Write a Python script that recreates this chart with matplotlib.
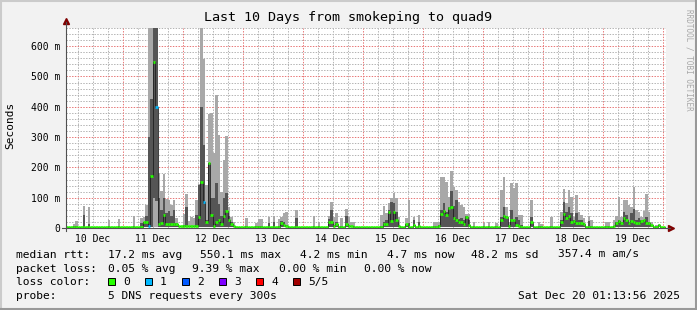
import matplotlib
matplotlib.use('Agg')
import matplotlib.pyplot as plt
from matplotlib.lines import Line2D
from matplotlib.patches import Rectangle
import numpy as np

plt.rc('font', family='DejaVu Sans Mono')

# smoke data, hourly bins, hour index counted from 10 Dec 00:00, values in ms
# (bins not listed sit on the baseline)
hours = [4, 5, 8, 10, 18, 22,
         28, 31, 32, 33, 34, 35, 36, 37, 38, 39, 40, 41, 42, 43, 44, 45, 46, 47,
         48, 49, 50, 51, 52, 53, 54, 55, 56, 57, 58, 59, 60, 61, 62, 63, 64, 65, 66, 67, 68,
         73, 77, 78, 79, 82, 84, 86, 87, 88, 89, 93,
         100, 102, 106, 107, 108, 109, 111, 113, 114, 115, 116,
         127, 128, 129, 130, 131, 132, 133, 134, 137, 138, 140, 142,
         148, 149, 150, 151, 152, 153, 154, 155, 156, 157, 158, 159, 160, 161, 162, 164,
         168, 170, 173, 175, 176, 177, 178, 179, 180, 181, 182, 183, 187, 190,
         191, 195, 199, 200, 201, 202, 203, 204, 205, 206, 207, 208, 210, 211,
         217, 218, 220, 221, 222, 223, 224, 225, 226, 227, 228, 229, 230, 231, 232, 233, 234, 235, 237, 238]
median = [4.5, 4.5, 4.5, 4.5, 4.5, 4.5,
          4.5, 4.5, 20, 21, 5, 172, 549, 400, 13, 15, 43, 14, 14, 14, 12, 12, 7, 7,
          6, 6, 5, 5, 7, 7, 37, 153, 87, 21, 213, 43, 5, 20, 26, 12, 40, 57, 26, 13, 6,
          4.5, 4.5, 4.5, 4.5, 4.5, 4.5, 4.5, 18, 10, 6, 4.5,
          4.5, 4.5, 21, 21, 8, 12, 4.5, 13, 8, 5, 4.5,
          4.5, 12, 14, 54, 23, 54, 26, 6, 12, 4.5, 10, 5,
          4.5, 4.5, 8, 45, 57, 43, 65, 70, 32, 26, 21, 21, 13, 35, 10, 4.5,
          4.5, 4.5, 4.5, 26, 40, 37, 8, 26, 26, 10, 8, 4.5, 19, 4.5,
          4.5, 4.5, 21, 46, 34, 40, 21, 24, 15, 18, 15, 14, 4.5, 4.5,
          4.5, 4.5, 8, 15, 23, 17, 32, 26, 17, 23, 21, 15, 18, 23, 26, 15, 15, 10, 4.5, 10]
upper = [5, 8, 43, 13, 8, 6,
         6, 15, 20, 40, 300, 425, 700, 700, 100, 60, 98, 50, 55, 40, 59, 15, 7, 7,
         10, 70, 6, 8, 8, 43, 142, 400, 274, 25, 216, 100, 99, 148, 80, 40, 100, 115, 40, 20, 6,
         5, 5, 5, 5, 15, 21, 8, 24, 21, 10, 32,
         5, 5, 30, 59, 10, 21, 8, 40, 10, 6, 5,
         8, 21, 26, 59, 87, 81, 54, 10, 13, 15, 26, 21,
         5, 5, 10, 60, 81, 54, 70, 123, 73, 92, 30, 32, 25, 40, 26, 5,
         5, 8, 6, 37, 70, 40, 10, 59, 26, 37, 26, 10, 37, 5,
         5, 5, 26, 87, 54, 70, 48, 26, 48, 26, 26, 18, 24, 5,
         5, 5, 8, 21, 26, 21, 54, 43, 21, 50, 62, 26, 32, 26, 26, 37, 21, 10, 5, 10]
top = [13, 23, 73, 70, 27, 30,
       40, 33, 37, 76, 700, 700, 700, 700, 181, 122, 178, 96, 92, 76, 92, 34, 8, 8,
       46, 112, 22, 37, 32, 92, 145, 700, 557, 142, 376, 380, 247, 438, 306, 120, 224, 303, 70, 37, 20,
       32, 15, 30, 29, 37, 40, 30, 37, 48, 54, 59,
       40, 21, 40, 87, 37, 48, 32, 62, 37, 21, 21,
       43, 73, 48, 84, 98, 114, 98, 37, 32, 92, 37, 43,
       21, 21, 21, 169, 169, 153, 101, 189, 136, 125, 87, 76, 70, 46, 46, 21,
       18, 21, 15, 125, 169, 70, 21, 147, 131, 147, 43, 43, 92, 21,
       13, 37, 54, 129, 81, 125, 103, 37, 109, 54, 43, 32, 40, 26,
       21, 21, 26, 40, 103, 35, 92, 92, 76, 70, 136, 59, 54, 37, 57, 112, 54, 21, 10, 12]
lower_hours = [36, 37]
lower_vals = [98, 90]
loss_hours = [34, 37, 56]
loss_counts = [1, 1, 1]

base_min = 3.9
base_med = 4.5

day_labels = ['10 Dec', '11 Dec', '12 Dec', '13 Dec', '14 Dec',
              '15 Dec', '16 Dec', '17 Dec', '18 Dec', '19 Dec']
loss_colors = ['#26ff00', '#00b8ff', '#0059ff', '#7e00ff', '#ff0000', '#a10000']
loss_names = ['0', '1', '2', '3', '4', '5/5']

assert len(hours) == len(median) == len(upper) == len(top)

t0 = 1 + 13 / 60 + 56 / 3600   # end time 01:13:56, 10 days back
t1 = t0 + 240

bins = np.arange(1, 241)
p1 = np.full(240, base_min)
p2 = np.full(240, base_min)
p3 = np.full(240, base_med)
p4 = np.full(240, base_med)
p5 = np.full(240, base_med)
idx = np.array(hours) - 1
p3[idx] = median
p4[idx] = upper
p5[idx] = top
p2[np.array(lower_hours) - 1] = lower_vals
loss = np.zeros(240, dtype=int)
loss[np.array(loss_hours) - 1] = loss_counts

W, H = 697, 310
fig = plt.figure(figsize=(W / 100, H / 100), dpi=100)
fig.patch.set_facecolor('#f2f2f2')
ax = fig.add_axes([66 / W, 1 - 228 / H, 600 / W, 200 / H])
ax.set_facecolor('white')
ax.set_xlim(t0, t1)
ax.set_ylim(0, 660)
for s in ax.spines.values():
    s.set_visible(False)

# grid (dotted, 1px on / 1px off)
dot = (0, (1.4, 1.4))
mgrid, grid = '#e87878', '#b4b4b4'
gx = np.arange(6, 241, 6)
gx_major = gx[gx % 24 == 0]
gx_minor = gx[gx % 24 != 0]
gy = np.arange(20, 661, 20)
gy_major = gy[gy % 100 == 0]
gy_minor = gy[gy % 100 != 0]
ax.vlines(gx_minor, 0, 660, colors=grid, lw=0.72, linestyles=dot, zorder=0, snap=True)
ax.hlines(gy_minor, t0, t1, colors=grid, lw=0.72, linestyles=dot, zorder=0, snap=True)
ax.vlines(gx_major, 0, 660, colors=mgrid, lw=0.72, linestyles=dot, zorder=1, snap=True)
ax.hlines(gy_major, t0, t1, colors=mgrid, lw=0.72, linestyles=dot, zorder=1, snap=True)

# smoke
ax.bar(bins, p5 - p1, bottom=p1, width=1, align='edge', color='#a8a8a8', lw=0, zorder=2)
ax.bar(bins, p4 - p2, bottom=p2, width=1, align='edge', color='#555555', lw=0, zorder=3)

# median line + loss coloured ticks
ax.step(np.r_[bins, 241], np.r_[p3, p3[-1]], where='post', color='#202020', lw=0.6, zorder=4)
ax.hlines(p3, bins, bins + 1, colors=[loss_colors[l] for l in loss], lw=1.9, zorder=5)

# ticks
ax.set_xticks([12 + 24 * k for k in range(10)], day_labels)
ax.set_yticks(range(0, 700, 100), ['0'] + ['%d m' % v for v in range(100, 700, 100)])
ax.tick_params(length=0, labelsize=7, pad=4.3)

# axes with arrows
ax.add_line(Line2D([0, 0], [-0.015, 1.03], transform=ax.transAxes, color='#505050',
                   lw=0.8, clip_on=False, zorder=6))
ax.add_line(Line2D([-0.006, 1.006], [0, 0], transform=ax.transAxes, color='#505050',
                   lw=0.8, clip_on=False, zorder=6))
ax.plot([0], [1.035], marker='^', ms=4, color='#7f0000', transform=ax.transAxes, clip_on=False)
ax.plot([1.008], [0], marker='>', ms=4, color='#7f0000', transform=ax.transAxes, clip_on=False)

def fx(px):
    return px / W

def fy(py):
    return 1 - py / H

fig.text(fx(348), fy(18), 'Last 10 Days from smokeping to quad9', ha='center', va='center',
         fontsize=9.6)
fig.text(fx(10), fy(125), 'Seconds', rotation=90, ha='center', va='center', fontsize=8)
fig.text(fx(689), fy(60), 'RRDTOOL / TOBI OETIKER', rotation=-90, ha='center', va='center',
         fontsize=5.5, color='#a8a8a8')

# legend block
fs = 8.1
rows = [
    (254.5, [(16, 'median rtt:'), (108, '17.2 ms avg'), (200, '550.1 ms max'), (300, '4.2 ms min'),
             (387, '4.7 ms now'), (471, '48.2 ms sd'), (558, '357.4 m am/s')]),
    (268.5, [(16, 'packet loss:'), (108, '0.05 % avg'), (192, '9.39 % max'), (279, '0.00 % min'),
             (364, '0.00 % now')]),
    (282, [(16, 'loss color:')]),
    (296, [(16, 'probe:'), (108, '5 DNS requests every 300s')]),
]
for y, items in rows:
    for x, s in items:
        fig.text(fx(x), fy(y), s, ha='left', va='center', fontsize=fs)
fig.text(fx(680), fy(296), 'Sat Dec 20 01:13:56 2025', ha='right', va='center', fontsize=fs)

sq_x = [108, 145, 182, 219, 256, 293]
for x, c, n in zip(sq_x, loss_colors, loss_names):
    fig.add_artist(Rectangle((fx(x), fy(285)), 7 / W, 7 / H, transform=fig.transFigure,
                             facecolor=c, edgecolor='black', lw=0.7))
    fig.text(fx(x + 15), fy(282), n, ha='left', va='center', fontsize=fs)

# 3d frame
fig.add_artist(Line2D([0, 1], [fy(1), fy(1)], transform=fig.transFigure, color='#cbcbcb', lw=1.5))
fig.add_artist(Line2D([fx(1), fx(1)], [0, 1], transform=fig.transFigure, color='#cbcbcb', lw=1.5))
fig.add_artist(Line2D([0, 1], [fy(309), fy(309)], transform=fig.transFigure, color='#999999', lw=1.5))
fig.add_artist(Line2D([fx(696), fx(696)], [0, 1], transform=fig.transFigure, color='#999999', lw=1.5))

fig.savefig('out.png', dpi=100, facecolor=fig.get_facecolor())
